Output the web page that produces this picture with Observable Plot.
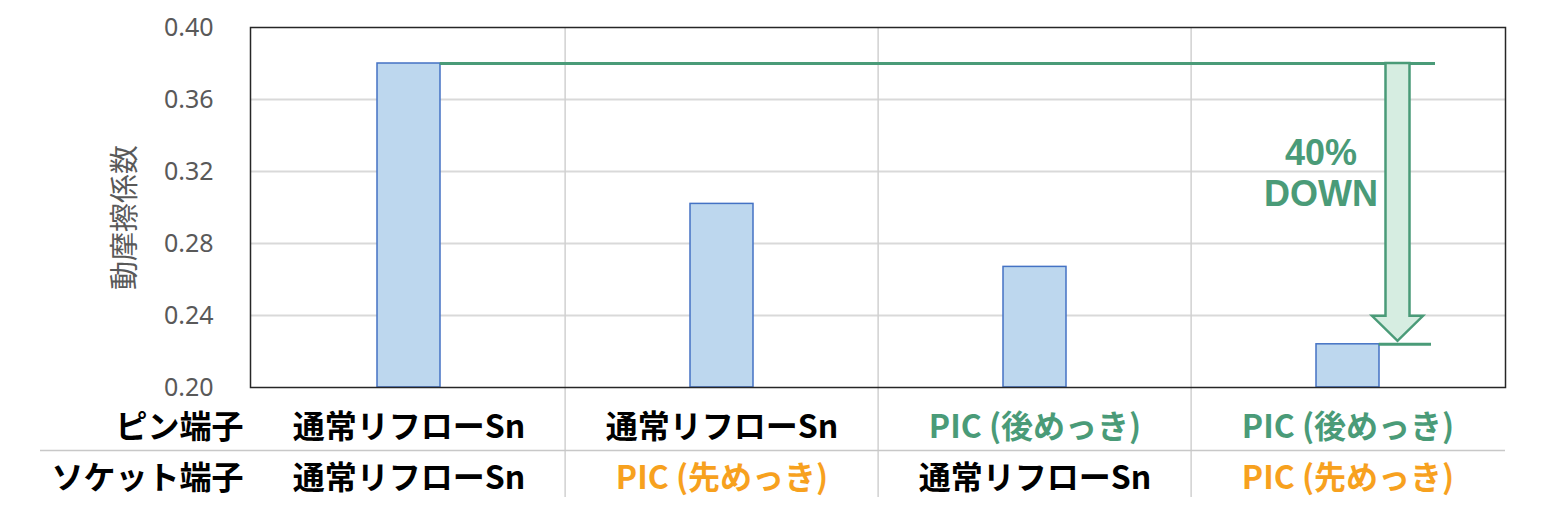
<!DOCTYPE html>
<html>
<head>
<meta charset="utf-8">
<script src="https://cdn.jsdelivr.net/npm/d3@7"></script>
<script src="https://cdn.jsdelivr.net/npm/@observablehq/plot@0.6"></script>
<style>
  html, body { margin: 0; padding: 0; background: #fff; }
  #chart { width: 1550px; height: 527px; }
</style>
</head>
<body>
<div id="chart"></div>
<script>
// ---- data ----
const categories = ["通常/通常", "通常/PIC", "PIC/通常", "PIC/PIC"];
const values = [0.380, 0.302, 0.267, 0.224];
const pinLabels = ["通常リフローSn", "通常リフローSn", "PIC (後めっき)", "PIC (後めっき)"];
const pinTypes = ["normal", "normal", "post", "post"];
const socketLabels = ["通常リフローSn", "PIC (先めっき)", "通常リフローSn", "PIC (先めっき)"];
const socketTypes = ["normal", "pre", "normal", "pre"];
const rowLabels = ["ピン端子", "ソケット端子"];
const yTicks = [0.20, 0.24, 0.28, 0.32, 0.36, 0.40];
const yLabel = "動摩擦係数";
const downLabel = "40%\nDOWN";

// ---- style ----
const GREEN = "#4a9b78";
const ORANGE = "#f7a11e";
const typeColor = {normal: "#000000", post: GREEN, pre: ORANGE};
const FONT = "'Noto Sans CJK JP', 'Noto Sans', sans-serif";

const rows = categories.map((c, i) => ({c, v: values[i], pin: pinLabels[i], pinT: pinTypes[i], sock: socketLabels[i], sockT: socketTypes[i]}));

const W = 1550, H = 527;
const mL = 250, mR = 45, mT = 27, mB = 140;
const step = (W - mL - mR) / categories.length;
const bandW = step * 0.2;

function bandCenter(x, c) {
  const bw = typeof x.bandwidth === "function" ? x.bandwidth() : (x.bandwidth || 0);
  return x(c) + bw / 2;
}

// block arrow drawn from the scales
const arrowMark = (index, scales) => {
  const {x, y} = scales;
  const cx = bandCenter(x, categories[3]) + 50;
  const top = y(values[0]);
  const tip = y(values[3]) - 3;
  const headH = 25, sw = 12, hw = 25.5;
  const pts = [
    [cx - sw, top], [cx + sw, top], [cx + sw, tip - headH], [cx + hw, tip - headH],
    [cx, tip], [cx - hw, tip - headH], [cx - sw, tip - headH]
  ];
  const g = d3.create("svg:g");
  g.append("path")
    .attr("d", "M" + pts.map(p => p.join(",")).join("L") + "Z")
    .attr("fill", "#d6ede1")
    .attr("stroke", GREEN)
    .attr("stroke-width", 2.5)
    .attr("stroke-linejoin", "miter");
  return g.node();
};

const chart = Plot.plot({
  width: W,
  height: H,
  marginLeft: mL,
  marginRight: mR,
  marginTop: mT,
  marginBottom: mB,
  style: {fontFamily: "'Noto Sans', sans-serif", fontSize: "25px", color: "#595959", background: "#fff", overflow: "visible"},
  x: {domain: categories, paddingInner: 0.8, paddingOuter: 0.4, axis: null},
  y: {domain: [0.2, 0.4], ticks: yTicks, tickFormat: d3.format(".2f"), tickSize: 0, tickPadding: 37, label: null},
  marks: [
    // horizontal grid
    Plot.ruleY(yTicks.slice(1, -1), {stroke: "#d9d9d9", strokeWidth: 2}),
    // vertical category separators extending through the table
    Plot.ruleX(categories.slice(1), {dx: -step / 2, stroke: "#d0d0d0", strokeWidth: 1.5, insetBottom: -110}),
    // table row separator
    Plot.ruleY([0.2], {dy: 63, insetLeft: -210, stroke: "#c8c8c8", strokeWidth: 1.5}),
    // bars
    Plot.barY(rows, {x: "c", y1: () => 0.2, y2: "v", fill: "#bdd7ee", stroke: "#4472c4", strokeWidth: 1.5}),
    // frame
    Plot.frame({stroke: "#262626", strokeWidth: 1.5}),
    // reference lines (rule x1/x2 on a band scale sit at band start / band end)
    Plot.ruleY([rows[0]], {y: "v", x1: () => categories[0], x2: () => categories[3], insetLeft: bandW, insetRight: -56, stroke: GREEN, strokeWidth: 3}),
    Plot.ruleY([rows[3]], {y: "v", x1: () => categories[3], x2: () => categories[3], insetLeft: bandW, insetRight: -52, stroke: GREEN, strokeWidth: 3}),
    arrowMark,
    Plot.text([downLabel], {x: () => categories[3], y: () => (values[0] + values[3]) / 2, dx: -27, dy: -32, text: d => d, fill: GREEN, fontSize: 36, fontWeight: "bold", lineHeight: 1.14, fontFamily: "'Liberation Sans', Arial, sans-serif"}),
    // y label
    Plot.text([yLabel], {frameAnchor: "left", dx: -125, dy: 10, rotate: -90, textAnchor: "middle", text: d => d, fontSize: 29, fill: "#595959", fontFamily: FONT}),
    // table text
    Plot.text(rows, {x: "c", text: "pin", frameAnchor: "bottom", dy: 50, fill: d => typeColor[d.pinT], fontSize: 32, fontWeight: "bold", fontFamily: FONT}),
    Plot.text(rows, {x: "c", text: "sock", frameAnchor: "bottom", dy: 101, fill: d => typeColor[d.sockT], fontSize: 32, fontWeight: "bold", fontFamily: FONT}),
    Plot.text([rowLabels[0]], {frameAnchor: "bottom-left", dx: -7, dy: 50, textAnchor: "end", text: d => d, fill: "#000", fontSize: 32, fontWeight: "bold", fontFamily: FONT}),
    Plot.text([rowLabels[1]], {frameAnchor: "bottom-left", dx: -7, dy: 101, textAnchor: "end", text: d => d, fill: "#000", fontSize: 32, fontWeight: "bold", fontFamily: FONT})
  ]
});
document.getElementById("chart").appendChild(chart);
</script>
</body>
</html>
